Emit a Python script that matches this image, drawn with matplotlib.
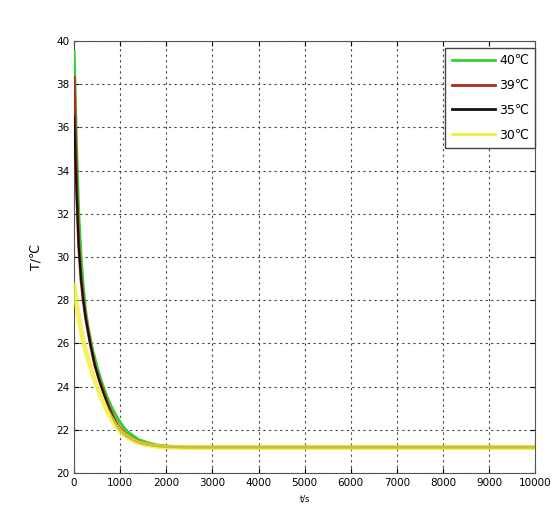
import matplotlib.pyplot as plt
import numpy as np

plt.rcParams['font.family'] = ['DejaVu Sans', 'Noto Sans CJK SC']
plt.rcParams['font.size'] = 7.5
plt.rcParams["xtick.direction"] = "in"
plt.rcParams["ytick.direction"] = "in"
plt.rcParams["xtick.top"] = True
plt.rcParams["ytick.right"] = True

# values (time in s, temperature in degC)
t_40 = [0, 30, 60, 100, 150, 200, 250, 300, 400, 500, 600, 700, 800, 900, 1000, 1100, 1200, 1400, 1600, 1800, 2000, 2500, 3000, 4000, 5000, 6000, 7000, 8000, 9000, 10000]
T_40 = [39.5, 37.0, 34.5, 32.0, 30.0, 28.6, 27.5, 26.8, 25.7, 24.9, 24.2, 23.6, 23.1, 22.7, 22.35, 22.05, 21.85, 21.55, 21.4, 21.3, 21.25, 21.2, 21.2, 21.2, 21.2, 21.2, 21.2, 21.2, 21.2, 21.2]

t_39 = [0, 30, 60, 100, 150, 200, 250, 300, 350, 400, 450, 550, 650, 750, 850, 950, 1050, 1150, 1300, 1450, 1600, 1800, 2000, 2500, 3000, 4000, 5000, 6000, 7000, 8000, 9000, 10000]
T_39 = [38.3, 35.5, 33.0, 30.6, 29.0, 28.0, 27.2, 26.6, 26.0, 25.5, 25.0, 24.3, 23.7, 23.1, 22.6, 22.2, 21.95, 21.75, 21.55, 21.42, 21.34, 21.27, 21.23, 21.2, 21.2, 21.2, 21.2, 21.2, 21.2, 21.2, 21.2, 21.2]

t_35 = [0, 30, 60, 100, 150, 200, 250, 300, 350, 400, 450, 550, 650, 750, 850, 950, 1050, 1150, 1300, 1450, 1600, 1800, 2000, 2500, 3000, 4000, 5000, 6000, 7000, 8000, 9000, 10000]
T_35 = [36.5, 34.5, 32.6, 30.5, 29.0, 28.0, 27.2, 26.6, 26.0, 25.5, 25.0, 24.25, 23.6, 23.0, 22.5, 22.1, 21.85, 21.68, 21.5, 21.38, 21.31, 21.25, 21.22, 21.2, 21.2, 21.2, 21.2, 21.2, 21.2, 21.2, 21.2, 21.2]

t_30 = [0, 50, 100, 150, 200, 300, 400, 500, 600, 700, 800, 900, 1000, 1100, 1250, 1400, 1600, 1800, 2000, 2500, 3000, 4000, 5000, 6000, 7000, 8000, 9000, 10000]
T_30 = [28.7, 27.9, 27.2, 26.6, 26.1, 25.3, 24.6, 24.0, 23.45, 22.95, 22.55, 22.2, 21.95, 21.75, 21.55, 21.4, 21.3, 21.24, 21.2, 21.18, 21.18, 21.18, 21.18, 21.18, 21.18, 21.18, 21.18, 21.18]

labels = ['40℃', '39℃', '35℃', '30℃']
colors = ['#35d035', '#b22a1e', '#101010', '#f2ee3c']

fig = plt.figure(figsize=(5.57, 5.11), dpi=100)
ax = fig.add_axes([0.133, 0.074, 0.828, 0.846])

ax.plot(t_40, T_40, color=colors[0], lw=2.2, zorder=3, label=labels[0])
ax.plot(t_39, T_39, color=colors[1], lw=2.2, zorder=4, label=labels[1])
ax.plot(t_35, T_35, color=colors[2], lw=1.4, zorder=5, label=labels[2])
ax.plot(t_30, T_30, color=colors[3], lw=3.5, alpha=0.8, zorder=6, label=labels[3])

ax.set_xlim(0, 10000)
ax.set_ylim(20, 40)
ax.set_xticks(np.arange(0, 10001, 1000))
ax.set_yticks(np.arange(20, 41, 2))
ax.grid(True, color='#444444', linestyle=(0, (2, 3)), linewidth=0.8)
ax.set_axisbelow(True)
for s in ax.spines.values():
    s.set_color('#555555')

ax.set_xlabel('t/s', fontsize=6, labelpad=5)
ax.set_ylabel('T/℃', fontsize=9, labelpad=10)

leg = ax.legend(loc='upper right', bbox_to_anchor=(1.0, 0.984), borderaxespad=0,
                fontsize=9, labelspacing=0.95, handlelength=3.5, handletextpad=0.3,
                fancybox=False, framealpha=1, edgecolor='#444444', borderpad=0.5)
leg.get_frame().set_linewidth(1.0)
for h in leg.get_lines():
    h.set_linewidth(2.0)
    h.set_alpha(1)

fig.savefig('out.png', dpi=100)
